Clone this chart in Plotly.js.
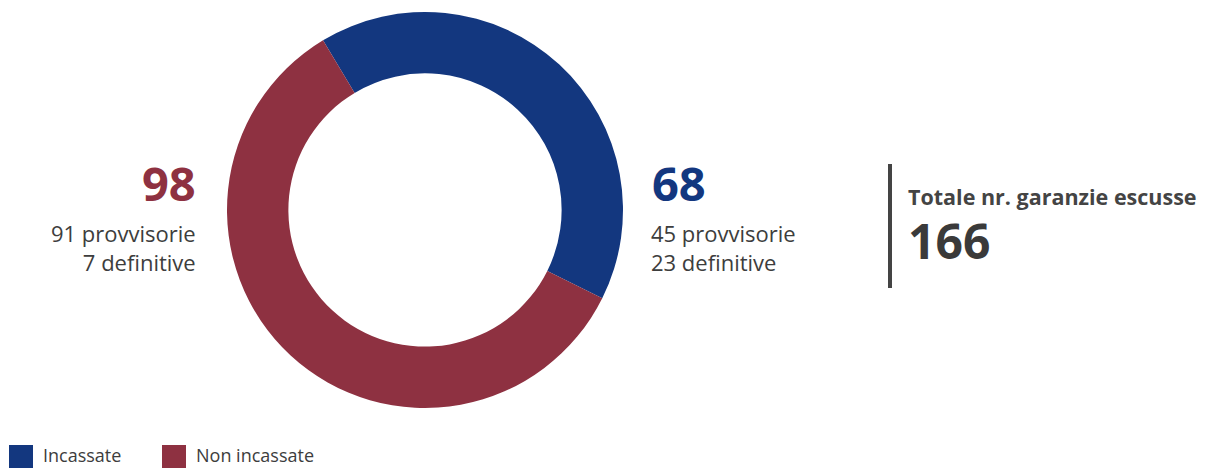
<!DOCTYPE html>
<html>
<head>
<meta charset="utf-8">
<script src="https://cdn.plot.ly/plotly-3.0.1.min.js"></script>
<style>
  html, body { margin: 0; padding: 0; background: #fff; }
  #chart { width: 1216px; height: 468px; }
</style>
</head>
<body>
<div id="chart"></div>
<script>
var W = 1216, H = 468;

// data
var labels = ['Incassate', 'Non incassate'];
var values = [68, 98];
var colors = ['#13377f', '#8e3141'];
var provvisorie = [45, 91];
var definitive = [23, 7];
var totalLabel = 'Totale nr. garanzie escusse';
var total = values[0] + values[1];

var grey = '#3d3d3d';
var font = 'Open Sans, Noto Sans, sans-serif';

function px(x) { return x / W; }
function py(y) { return 1 - y / H; }

var data = [{
  type: 'pie',
  labels: labels,
  values: values,
  hole: 0.69,
  sort: false,
  direction: 'clockwise',
  rotation: -31,
  textinfo: 'none',
  hoverinfo: 'label+value',
  marker: { colors: colors, line: { width: 0 } },
  domain: { x: [px(227), px(623)], y: [py(408), py(12)] }
}];

var annotations = [
  // Non incassate block (left)
  { x: px(198), y: py(183), xanchor: 'right', yanchor: 'middle', text: '<b>' + values[1] + '</b>',
    font: { size: 47, color: colors[1], family: font } },
  { x: px(198), y: py(247), xanchor: 'right', yanchor: 'middle', align: 'right',
    text: provvisorie[1] + ' provvisorie<br>' + definitive[1] + ' definitive',
    font: { size: 22, color: grey, family: font } },
  // Incassate block (right of donut)
  { x: px(650), y: py(183), xanchor: 'left', yanchor: 'middle', text: '<b>' + values[0] + '</b>',
    font: { size: 47, color: colors[0], family: font } },
  { x: px(649), y: py(247), xanchor: 'left', yanchor: 'middle', align: 'left',
    text: provvisorie[0] + ' provvisorie<br>' + definitive[0] + ' definitive',
    font: { size: 22, color: grey, family: font } },
  // total
  { x: px(906), y: py(196), xanchor: 'left', yanchor: 'middle', text: '<b>' + totalLabel + '</b>',
    font: { size: 21.5, color: '#444', family: font } },
  { x: px(906), y: py(241), xanchor: 'left', yanchor: 'middle', text: '<b>' + total + '</b>',
    font: { size: 48, color: '#3a3a3a', family: font } }
];

var shapes = [
  { type: 'line', xref: 'paper', yref: 'paper', x0: px(890), x1: px(890), y0: py(164), y1: py(288),
    line: { color: '#444', width: 4 } }
];

// legend built from labels/colors
var legendX = [9, 162];
labels.forEach(function (lab, i) {
  shapes.push({ type: 'rect', xref: 'paper', yref: 'paper',
    x0: px(legendX[i]), x1: px(legendX[i] + 24), y0: py(468), y1: py(445),
    fillcolor: colors[i], line: { width: 0 } });
  annotations.push({ x: px(legendX[i] + 32), y: py(455), xanchor: 'left', yanchor: 'middle',
    text: lab, font: { size: 18, color: grey, family: font } });
});

annotations.forEach(function (a) { a.xref = 'paper'; a.yref = 'paper'; a.showarrow = false; });

var layout = {
  width: W,
  height: H,
  margin: { l: 0, r: 0, t: 0, b: 0 },
  paper_bgcolor: '#fff',
  showlegend: false,
  annotations: annotations,
  shapes: shapes
};

Plotly.newPlot('chart', data, layout, { displayModeBar: false, staticPlot: true });
</script>
</body>
</html>
